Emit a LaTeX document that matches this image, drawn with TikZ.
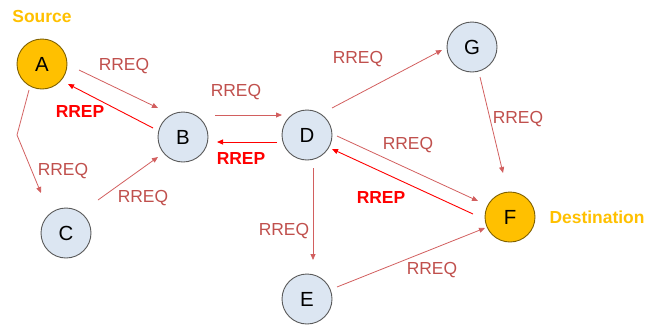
\documentclass[tikz,border=0pt]{standalone}
\usepackage{fontspec}
\setmainfont{Liberation Sans}
\usetikzlibrary{arrows.meta}
\definecolor{goldfill}{HTML}{FFC000}
\definecolor{golddraw}{HTML}{7F6000}
\definecolor{bluefill}{HTML}{DCE6F2}
\definecolor{bluedraw}{HTML}{595959}
\definecolor{reqcol}{HTML}{C0504D}
\definecolor{reqline}{HTML}{D25F5F}
\definecolor{repcol}{HTML}{FF0000}
\definecolor{labgold}{HTML}{FFC000}
\tikzset{
  host/.style={circle, minimum size=50bp, inner sep=0pt, line width=0.9bp,
    font=\fontsize{20.5}{24}\selectfont, text=black},
  plain/.style={host, fill=bluefill, draw=bluedraw},
  endpt/.style={host, fill=goldfill, draw=golddraw},
  reqlab/.style={font=\fontsize{17.5}{20}\selectfont, text=reqcol, inner sep=0pt},
  replab/.style={font=\fontsize{17.5}{20}\selectfont\bfseries, text=repcol, inner sep=0pt},
  rolelab/.style={font=\fontsize{17.5}{20}\selectfont\bfseries, text=labgold, inner sep=0pt},
  req/.style={draw=reqline, line width=0.8bp, -{Triangle[length=6bp,width=5bp]}},
  rep/.style={draw=repcol, line width=0.9bp, -{Triangle[length=6bp,width=5bp]}},
}
\begin{document}
\begin{tikzpicture}[x=1bp,y=-1bp]
\useasboundingbox (0,0) rectangle (660,324);
% nodes
\node[endpt] (A) at (42,64) {A};
\node[plain] (B) at (183,137) {B};
\node[plain] (C) at (66,233) {C};
\node[plain] (D) at (307,135) {D};
\node[plain] (E) at (307,299) {E};
\node[endpt] (F) at (510,217) {F};
\node[plain] (G) at (472,47) {G};
\node[rolelab] (src) at (42,16) {Source};
\node[rolelab] (dst) at (597,217) {Destination};
\coordinate (ACbend) at (17,135);
% connectors
\draw[req] ([shift={(37,6)}]A.center) -- ([shift={(-25,-29)}]B.center);
\draw[rep] ([shift={(-30,-9)}]B.center) -- ([shift={(26,20)}]A.center);
\draw[req] ([shift={(-13,26)}]A.center) -- (ACbend) -- ([shift={(-25,-40)}]C.center);
\draw[req] ([shift={(32,-33)}]C.center) -- ([shift={(-25,20)}]B.center);
\draw[req] ([shift={(32,-22)}]B.center) -- ([shift={(-25,-20)}]D.center);
\draw[rep] ([shift={(-30,7)}]D.center) -- ([shift={(34,5)}]B.center);
\draw[req] ([shift={(25,-27)}]D.center) -- ([shift={(-30,3)}]G.center);
\draw[req] ([shift={(8,30)}]G.center) -- ([shift={(-7,-44)}]F.center);
\draw[req] ([shift={(30,1)}]D.center) -- ([shift={(-32,-16)}]F.center);
\draw[rep] ([shift={(-37,-3)}]F.center) -- ([shift={(25,14)}]D.center);
\draw[req] ([shift={(6,33)}]D.center) -- ([shift={(6,-39)}]E.center);
\draw[req] ([shift={(30,-12)}]E.center) -- ([shift={(-25,11)}]F.center);
% labels
\node[reqlab] (l1) at (124,66) {RREQ};
\node[replab] (l2) at (80,111) {RREP};
\node[reqlab] (l3) at (63,171) {RREQ};
\node[reqlab] (l4) at (143,198) {RREQ};
\node[reqlab] (l5) at (236,92) {RREQ};
\node[replab] (l6) at (241,158) {RREP};
\node[reqlab] (l7) at (358,59) {RREQ};
\node[reqlab] (l8) at (518,119) {RREQ};
\node[reqlab] (l9) at (408,145) {RREQ};
\node[replab] (l10) at (381,197) {RREP};
\node[reqlab] (l11) at (284,231) {RREQ};
\node[reqlab] (l12) at (432,270) {RREQ};
\end{tikzpicture}
\end{document}
